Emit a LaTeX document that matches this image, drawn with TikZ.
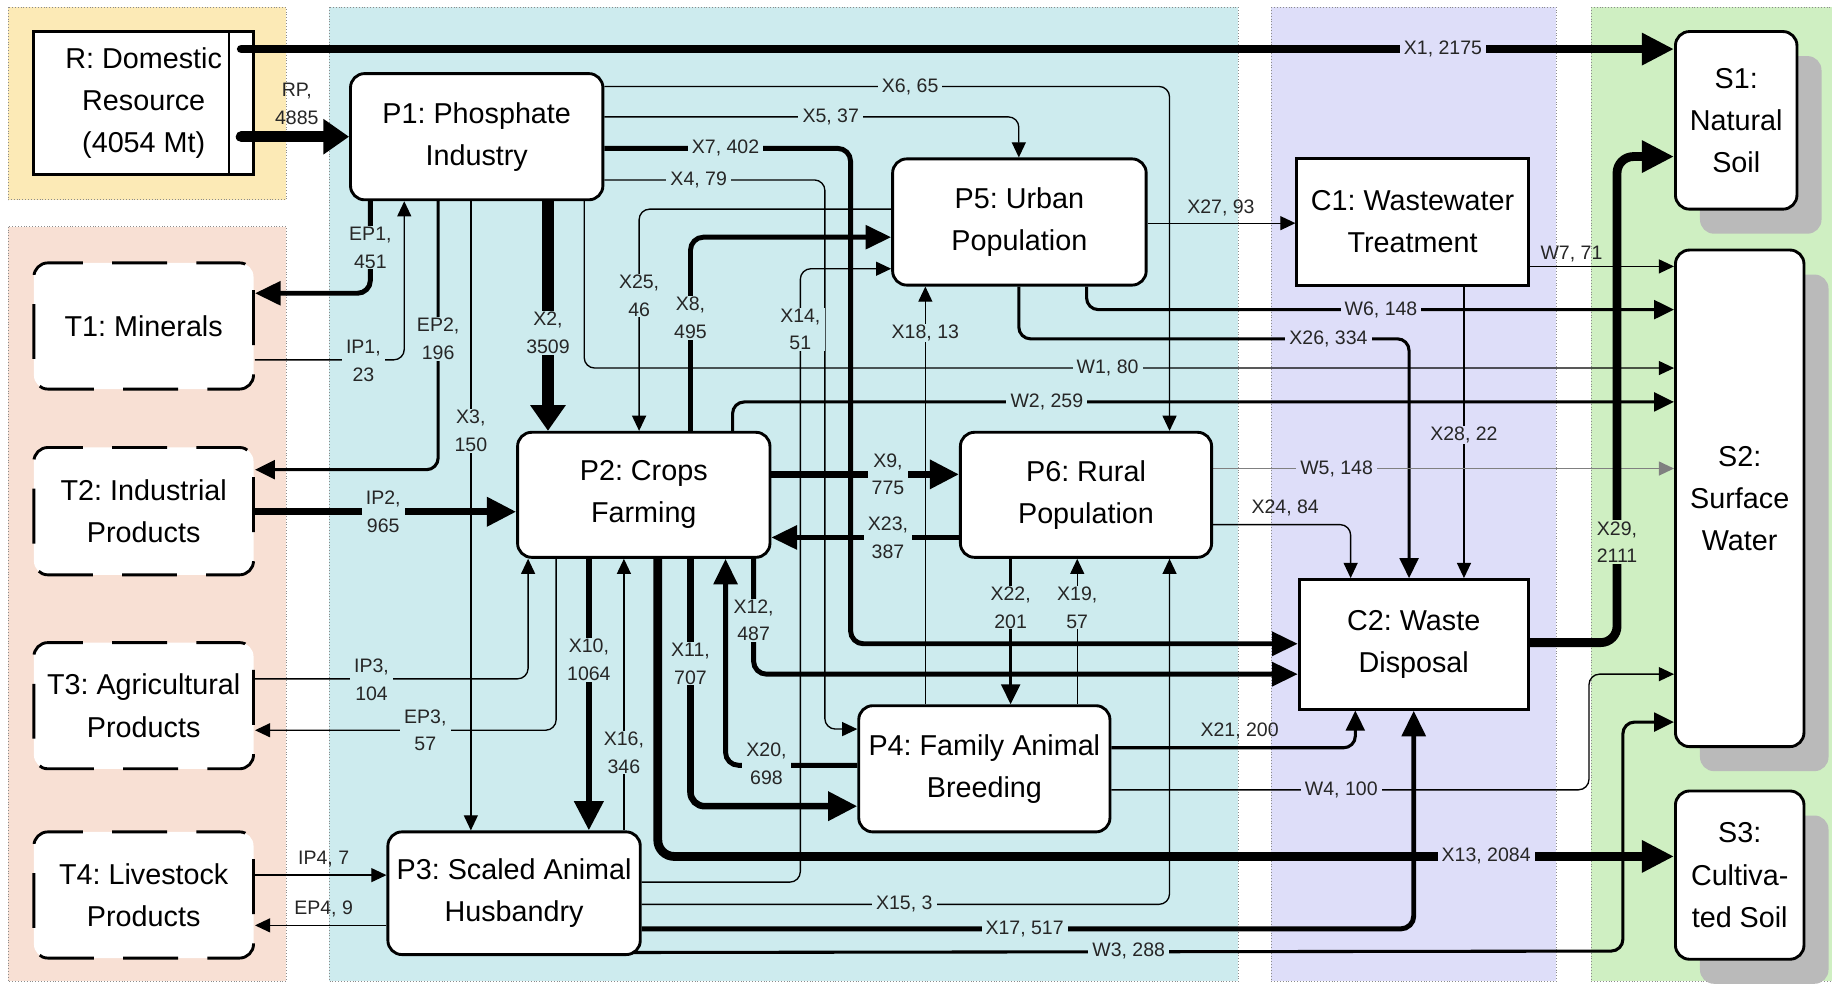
\documentclass[tikz,border=0pt]{standalone}
\usepackage{fontspec}
\setmainfont{Liberation Sans}
\frenchspacing
\usetikzlibrary{arrows.meta, shadows, calc}

\definecolor{yellowbg}{HTML}{FCEAB6}
\definecolor{pinkbg}{HTML}{F8E0D4}
\definecolor{tealbg}{HTML}{CDEBEE}
\definecolor{lavbg}{HTML}{DEDEF9}
\definecolor{greenbg}{HTML}{CFEFC2}

\newcommand{\boxfont}{\fontsize{14}{20.5}\selectfont}
\newcommand{\labfont}{\fontsize{9.5}{13.5}\selectfont}

\pgfdeclarelayer{regions}
\pgfdeclarelayer{flows}
\pgfsetlayers{regions,flows,main}

\tikzset{
  region/.style={draw=black!45, densely dotted, line width=0.4pt},
  box/.style={draw, line width=1.4pt, fill=white, align=center, font=\boxfont, inner sep=0pt},
  proc/.style={box, rounded corners=2.4mm},
  trade/.style={box, rounded corners=2.4mm, dash pattern=on 9.4mm off 5mm, dash phase=2mm},
  coll/.style={box},
  sink/.style={box, rounded corners=2.4mm,
    drop shadow={shadow xshift=4.2mm, shadow yshift=-4.2mm, fill=black!27, opacity=1}},
  lab/.style={font=\labfont, text=black!85, inner xsep=2pt, inner ysep=0.5pt, fill=tealbg, align=center},
  thinflow/.style={line width=0.65pt, rounded corners=1.8mm, -{Triangle[length=2.6mm, width=2.4mm]}},
  midflow/.style={line width=1.5pt, rounded corners=2mm, -{Triangle[length=3.4mm, width=3.2mm]}},
  boldflow/.style={line width=2.4pt, rounded corners=2.2mm, -{Triangle[length=4.4mm, width=4mm]}},
  heavyflow/.style={line width=3.2pt, rounded corners=2.4mm, -{Triangle[length=5mm, width=4.8mm]}},
  hugeflow/.style={line width=4.3pt, rounded corners=2.8mm, -{Triangle[length=5.5mm, width=5.2mm]}},
  maxflow/.style={line width=5.4pt, -{Triangle[length=4.4mm, width=5.8mm]}}
}

\begin{document}
\begin{tikzpicture}[x=0.2mm, y=-0.2mm]
  \useasboundingbox (0,0) rectangle (1568,842);

  % regions
  \begin{pgfonlayer}{regions}
    \fill[white] (0,0) rectangle (1568,842);
    \filldraw[region, fill=yellowbg] (7,6) rectangle (245,171);
    \filldraw[region, fill=pinkbg] (7,194) rectangle (245,840);
    \filldraw[region, fill=tealbg] (282,6) rectangle (1060,840);
    \filldraw[region, fill=lavbg] (1088,6) rectangle (1332,840);
    \filldraw[region, fill=greenbg] (1362,6) rectangle (1575,840);
  \end{pgfonlayer}

  % boxes
  \node[coll, minimum width=37.6mm, minimum height=24.4mm] (R) at (123,88) {R: Domestic\\Resource\\(4054 Mt)};
  \node[draw, line width=1.4pt, minimum width=4.2mm, minimum height=24.4mm, anchor=north east, inner sep=0pt] (Rbar) at (R.north east) {};
  \node[proc, minimum width=43.2mm, minimum height=21.6mm] (P1) at (408,117) {P1: Phosphate\\Industry};
  \node[trade, minimum width=37.6mm, minimum height=21.6mm] (T1) at (123,279) {T1: Minerals};
  \node[trade, minimum width=37.6mm, minimum height=21.8mm] (T2) at (123,437.5) {T2: Industrial\\Products};
  \node[trade, minimum width=37.6mm, minimum height=21.6mm] (T3) at (123,604) {T3: Agricultural\\Products};
  \node[trade, minimum width=37.6mm, minimum height=21.6mm] (T4) at (123,766) {T4: Livestock\\Products};
  \node[proc, minimum width=43.2mm, minimum height=21.4mm] (P2) at (551,423.5) {P2: Crops\\Farming};
  \node[proc, minimum width=43.2mm, minimum height=21mm] (P3) at (440,764.5) {P3: Scaled Animal\\Husbandry};
  \node[proc, minimum width=43mm, minimum height=21.6mm] (P4) at (842.5,658) {P4: Family Animal\\Breeding};
  \node[proc, minimum width=43.4mm, minimum height=21.6mm] (P5) at (872.5,190) {P5: Urban\\Population};
  \node[proc, minimum width=43mm, minimum height=21.4mm] (P6) at (929.5,423.5) {P6: Rural\\Population};
  \node[coll, minimum width=39.6mm, minimum height=21.6mm] (C1) at (1209,190) {C1: Wastewater\\Treatment};
  \node[coll, minimum width=39.2mm, minimum height=22.2mm] (C2) at (1210,551.5) {C2: Waste\\Disposal};
  \node[sink, minimum width=20.8mm, minimum height=30.4mm] (S1) at (1486,103) {S1:\\Natural\\Soil};
  \node[sink, minimum width=22mm, minimum height=85mm] (S2) at (1489,426.5) {S2:\\Surface\\Water};
  \node[sink, minimum width=22mm, minimum height=28.8mm] (S3) at (1489,749) {S3:\\Cultiva-\\ted Soil};

  % from the domestic resource
  \draw[hugeflow, line cap=round] (Rbar.center |- 0,42) -- (S1.west |- 0,42);
  \node[lab, fill=lavbg] (lx1) at (1235,42) {X1, 2175};
  \draw[maxflow, line cap=round] (Rbar.center |- 0,117) -- (P1.west |- 0,117);
  \node[lab, fill=none] (lrp) at (254,89) {RP,\\4885};

  \begin{pgfonlayer}{flows}
    % phosphate industry
    \draw[thinflow] (P1.east |- 0,74) -- (1001,74) -- (P6.north -| 1001,0);
    \node[lab] (lx6) at (779,74) {X6, 65};
    \draw[thinflow] (P1.east |- 0,100) -- (872,100) -- (P5.north -| 872,0);
    \node[lab] (lx5) at (711,100) {X5, 37};
    \draw[boldflow] (P1.east |- 0,127) -- (728,127) -- (728,551) -- (C2.west |- 0,551);
    \node[lab] (lx7) at (621,127) {X7, 402};
    \draw[thinflow] (P1.east |- 0,154) -- (706,154) -- (706,624) -- (P4.west |- 0,624);
    \node[lab] (lx4) at (598,154) {X4, 79};
    \draw[thinflow] (P1.south -| 500,0) -- (500,315) -- (S2.west |- 0,315);
    \node[lab] (lw1) at (948,315) {W1, 80};
    \draw[boldflow] (P1.south -| 317,0) -- (317,251) -- (T1.east |- 0,251);
    \node[lab] (lep1) at (317,212) {EP1,\\451};
    \draw[thinflow] (T1.east |- 0,308) -- (346,308) -- (P1.south -| 346,0);
    \node[lab] (lip1) at (311,309) {IP1,\\23};
    \draw[midflow] (P1.south -| 375,0) -- (375,402) -- (T2.east |- 0,402);
    \node[lab] (lep2) at (375,290) {EP2,\\196};
    \draw[thinflow] (P1.south -| 403,0) -- (P3.north -| 403,0);
    \node[lab] (lx3) at (403,369) {X3,\\150};
    \draw[maxflow] (P1.south -| 469,0) -- (P2.north -| 469,0);
    \node[lab] (lx2) at (469,285) {X2,\\3509};

    % urban population
    \draw[thinflow] (P5.west |- 0,179) -- (547,179) -- (P2.north -| 547,0);
    \node[lab] (lx25) at (547,253) {X25,\\46};
    \draw[boldflow] (P2.north -| 591,0) -- (591,203) -- (P5.west |- 0,203);
    \node[lab] (lx8) at (591,272) {X8,\\495};
    \draw[thinflow] (P3.east |- 0,755) -- (685,755) -- (685,230) -- (P5.west |- 0,230);
    \node[lab] (lx14) at (685,282) {X14,\\51};
    \draw[thinflow] (P4.north -| 792,0) -- (P5.south -| 792,0);
    \node[lab] (lx18) at (792,285) {X18, 13};
    \draw[thinflow] (P5.east |- 0,191) -- (C1.west |- 0,191);
    \node[lab, fill=none] (lx27) at (1045,178) {X27, 93};
    \draw[midflow] (P5.south -| 930,0) -- (930,265) -- (S2.west |- 0,265);
    \node[lab, fill=lavbg] (lw6) at (1182,265) {W6, 148};
    \draw[midflow] (P5.south -| 872,0) -- (872,290) -- (1206,290) -- (C2.north -| 1206,0);
    \node[lab, fill=lavbg] (lx26) at (1137,290) {X26, 334};

    % wastewater treatment
    \draw[thinflow] (C1.east |- 0,228) -- (S2.west |- 0,228);
    \node[lab, fill=none] (lw7) at (1345,217) {W7, 71};
    \draw[thinflow] (C1.south -| 1253,0) -- (C2.north -| 1253,0);
    \node[lab, fill=lavbg] (lx28) at (1253,372) {X28, 22};

    % crops farming and rural population
    \draw[midflow] (P2.north -| 627,0) -- (627,344) -- (S2.west |- 0,344);
    \node[lab] (lw2) at (896,344) {W2, 259};
    \draw[heavyflow] (P2.east |- 0,406) -- (P6.west |- 0,406);
    \node[lab] (lx9) at (760,406) {X9,\\775};
    \draw[boldflow] (P6.west |- 0,460) -- (P2.east |- 0,460);
    \node[lab] (lx23) at (760,460) {X23,\\387};
    \draw[thinflow, draw=black!50] (P6.east |- 0,401) -- (S2.west |- 0,401);
    \node[lab, fill=lavbg] (lw5) at (1144,401) {W5, 148};
    \draw[thinflow] (P6.east |- 0,449) -- (1156,449) -- (C2.north -| 1156,0);
    \node[lab, fill=none] (lx24) at (1100,435) {X24, 84};
    \draw[hugeflow] (C2.east |- 0,550) -- (1384,550) -- (1384,134) -- (S1.west |- 0,134);
    \node[lab, fill=greenbg] (lx29) at (1384,464) {X29,\\2111};
    \draw[midflow] (P6.south -| 865,0) -- (P4.north -| 865,0);
    \node[lab] (lx22) at (865,520) {X22,\\201};
    \draw[thinflow] (P4.north -| 922,0) -- (P6.south -| 922,0);
    \node[lab] (lx19) at (922,520) {X19,\\57};
    \draw[boldflow] (P2.south -| 645,0) -- (645,577) -- (C2.west |- 0,577);
    \node[lab] (lx12) at (645,531) {X12,\\487};
    \draw[heavyflow] (T2.east |- 0,438) -- (P2.west |- 0,438);
    \node[lab] (lip2) at (328,438) {IP2,\\965};
    \draw[heavyflow] (P2.south -| 504,0) -- (P3.north -| 504,0);
    \node[lab] (lx10) at (504,565) {X10,\\1064};
    \draw[heavyflow] (P2.south -| 591,0) -- (591,690) -- (P4.west |- 0,690);
    \node[lab] (lx11) at (591,568) {X11,\\707};
    \draw[thinflow] (T3.east |- 0,581) -- (452,581) -- (P2.south -| 452,0);
    \node[lab] (lip3) at (318,582) {IP3,\\104};
    \draw[thinflow] (P2.south -| 476,0) -- (476,625) -- (T3.east |- 0,625);
    \node[lab] (lep3) at (364,625) {EP3,\\57};
    \draw[thinflow] (P3.north -| 534,0) -- (P2.south -| 534,0);
    \node[lab] (lx16) at (534,644) {X16,\\346};
    \draw[boldflow] (P4.west |- 0,655) -- (621,655) -- (P2.south -| 621,0);
    \node[lab] (lx20) at (656,654) {X20,\\698};
    \draw[hugeflow] (P2.south -| 563,0) -- (563,733) -- (S3.west |- 0,733);
    \node[lab, fill=lavbg] (lx13) at (1272,733) {X13, 2084};

    % animal breeding
    \draw[midflow] (P4.east |- 0,640) -- (1160,640) -- (C2.south -| 1160,0);
    \node[lab, fill=none] (lx21) at (1061,626) {X21, 200};
    \draw[thinflow] (P4.east |- 0,676) -- (1360,676) -- (1360,577) -- (S2.west |- 0,577);
    \node[lab, fill=lavbg] (lw4) at (1148,676) {W4, 100};
    \draw[thinflow] (P3.east |- 0,774) -- (1001,774) -- (P6.south -| 1001,0);
    \node[lab] (lx15) at (774,774) {X15, 3};
    \draw[boldflow] (P3.east |- 0,795) -- (1210,795) -- (C2.south -| 1210,0);
    \node[lab] (lx17) at (877,795) {X17, 517};
    \draw[midflow] ($(P3.south east)+(-12,-3)$) -- (1389,814) -- (1389,618) -- (S2.west |- 0,618);
    \node[lab] (lw3) at (966,814) {W3, 288};
    \draw[thinflow] (T4.east |- 0,749) -- (P3.west |- 0,749);
    \node[lab, fill=none] (lip4) at (277,735) {IP4, 7};
    \draw[thinflow] (P3.west |- 0,792) -- (T4.east |- 0,792);
    \node[lab, fill=none] (lep4) at (277,778) {EP4, 9};
  \end{pgfonlayer}
\end{tikzpicture}
\end{document}
